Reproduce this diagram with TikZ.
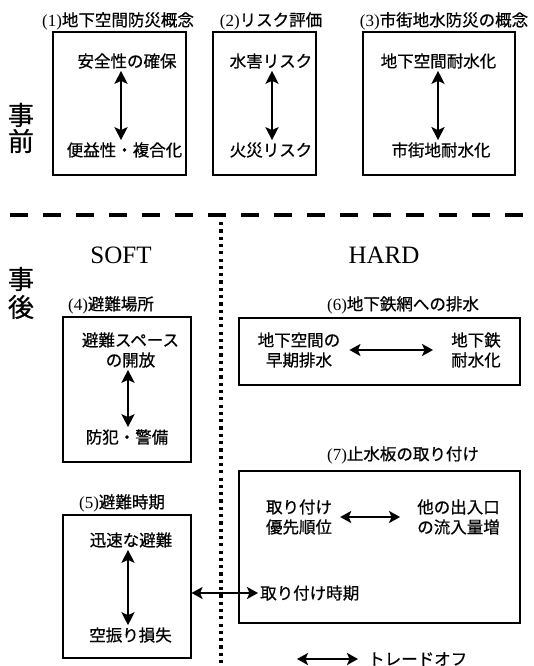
\documentclass[tikz,border=0pt]{standalone}
\usepackage{fontspec}
\setmainfont{Liberation Serif}
\newfontfamily\jp[FakeBold=0.6]{Noto Sans CJK JP}
\usetikzlibrary{arrows.meta,positioning}

\begin{document}
\begin{tikzpicture}[x=1pt,y=-1pt]
		\tikzset{
			waku/.style={draw,line width=1.1pt,inner sep=0pt},
			midashi/.style={font=\fontsize{16.5}{18}\selectfont\jp,inner sep=1pt},
			naiyou/.style={font=\fontsize{16.5}{20}\selectfont\jp,align=center,inner sep=2pt},
			tateya/.style={line width=2.8pt,{Stealth[length=13pt,width=13pt,inset=3pt]}-{Stealth[length=13pt,width=13pt,inset=3pt]}},
			yokoya/.style={line width=2pt,{Stealth[length=11pt,width=12pt,inset=2.5pt]}-{Stealth[length=11pt,width=12pt,inset=2.5pt]}},
			jiki/.style={font=\fontsize{26}{28}\selectfont\jp,inner sep=0pt},
			bunrui/.style={font=\fontsize{25}{27}\selectfont}
		}
		\useasboundingbox (0,0) rectangle (534,666);
		%%%事前
		\node[jiki] (mae1) at (21,115) {事};
		\node[jiki] (mae2) at (21,141) {前};
		%%%(1)
		\node[waku,minimum width=133pt,minimum height=143pt] (box1) at (119.5,103.5) {};
		\node[midashi] (ttl1) at (118,21) {\textrm{\fontsize{17}{17}\selectfont(1)}地下空間防災概念};
		\node[naiyou] (t1) at (127,61) {安全性の確保};
		\node[naiyou] (b1) at (124.5,150) {便益性・複合化};
		\coordinate (a1) at (121,0);
		\draw[tateya] (t1.south -| a1) -- (b1.north -| a1);
		%%%(2)
		\node[waku,minimum width=103pt,minimum height=143pt] (box2) at (264.5,103.5) {};
		\node[midashi] (ttl2) at (271,21) {\textrm{\fontsize{17}{17}\selectfont(2)}リスク評価};
		\node[naiyou] (t2) at (271,61) {水害リスク};
		\node[naiyou] (b2) at (271,150) {火災リスク};
		\coordinate (a2) at (272,0);
		\draw[tateya] (t2.south -| a2) -- (b2.north -| a2);
		%%%(3)
		\node[waku,minimum width=152pt,minimum height=143pt] (box3) at (439,103.5) {};
		\node[midashi] (ttl3) at (444,21) {\textrm{\fontsize{17}{17}\selectfont(3)}市街地水防災の概念};
		\node[naiyou] (t3) at (438.5,61) {地下空間耐水化};
		\node[naiyou] (b3) at (441,150) {市街地耐水化};
		\coordinate (a3) at (438,0);
		\draw[tateya] (t3.south -| a3) -- (b3.north -| a3);
		%%%区切り線
		\coordinate (sL) at (10,215);
		\coordinate (sR) at (534,215);
		\draw[line width=4pt,dash pattern=on 18pt off 15pt] (sL) -- (sR);
		\coordinate (kT) at (221,222);
		\coordinate (kB) at (221,666);
		\draw[line width=3.2pt,dash pattern=on 3.2pt off 4.1pt] (kT) -- (kB);
		%%%事後
		\node[jiki] (ato1) at (21,279) {事};
		\node[jiki] (ato2) at (21,307) {後};
		\node[bunrui] (soft) at (121,255) {SOFT};
		\node[bunrui] (hard) at (384,255) {HARD};
		%%%(4)
		\node[waku,minimum width=128pt,minimum height=145pt] (box4) at (127,389.5) {};
		\node[midashi] (ttl4) at (111,305) {\textrm{\fontsize{17}{17}\selectfont(4)}避難場所};
		\node[naiyou] (t4) at (130.5,350) {避難スペース\\の開放};
		\node[naiyou] (b4) at (127,437) {防犯・警備};
		\coordinate (a4) at (128,0);
		\draw[tateya] (t4.south -| a4) -- (b4.north -| a4);
		%%%(5)
		\node[waku,minimum width=128pt,minimum height=143pt] (box5) at (127,586.5) {};
		\node[midashi] (ttl5) at (122,503) {\textrm{\fontsize{17}{17}\selectfont(5)}避難時期};
		\node[naiyou] (t5) at (131,540) {迅速な避難};
		\node[naiyou] (b5) at (130.5,635) {空振り損失};
		\coordinate (a5) at (128,0);
		\draw[tateya] (t5.south -| a5) -- (b5.north -| a5);
		%%%(6)
		\node[waku,minimum width=281pt,minimum height=67pt] (box6) at (379.5,351.5) {};
		\node[midashi] (ttl6) at (403,305) {\textrm{\fontsize{17}{17}\selectfont(6)}地下鉄網への排水};
		\node[naiyou] (l6) at (299,350) {地下空間の\\早期排水};
		\node[naiyou] (r6) at (476,350) {地下鉄\\耐水化};
		\draw[yokoya,shorten <=7pt,shorten >=16pt] (l6) -- (r6);
		%%%(7)
		\node[waku,minimum width=281pt,minimum height=152pt] (box7) at (379.5,547) {};
		\node[midashi] (ttl7) at (403,455) {\textrm{\fontsize{17}{17}\selectfont(7)}止水板の取り付け};
		\node[naiyou] (l7) at (299,517) {取り付け\\優先順位};
		\node[naiyou] (r7) at (458.5,517) {他の出入口\\の流入量増};
		\draw[yokoya,shorten <=6pt,shorten >=15pt] (l7) -- (r7);
		\node[naiyou,anchor=west] (jk7) at (258,593) {取り付け時期};
		\draw[yokoya] (box5.east |- jk7) -- (jk7.west);
		%%%凡例
		\node[naiyou,anchor=west] (hanrei) at (366,659) {トレードオフ};
		\coordinate (hL) at (297,659);
		\draw[yokoya,shorten >=8pt] (hL) -- (hanrei.west);
	\end{tikzpicture}
\end{document}
